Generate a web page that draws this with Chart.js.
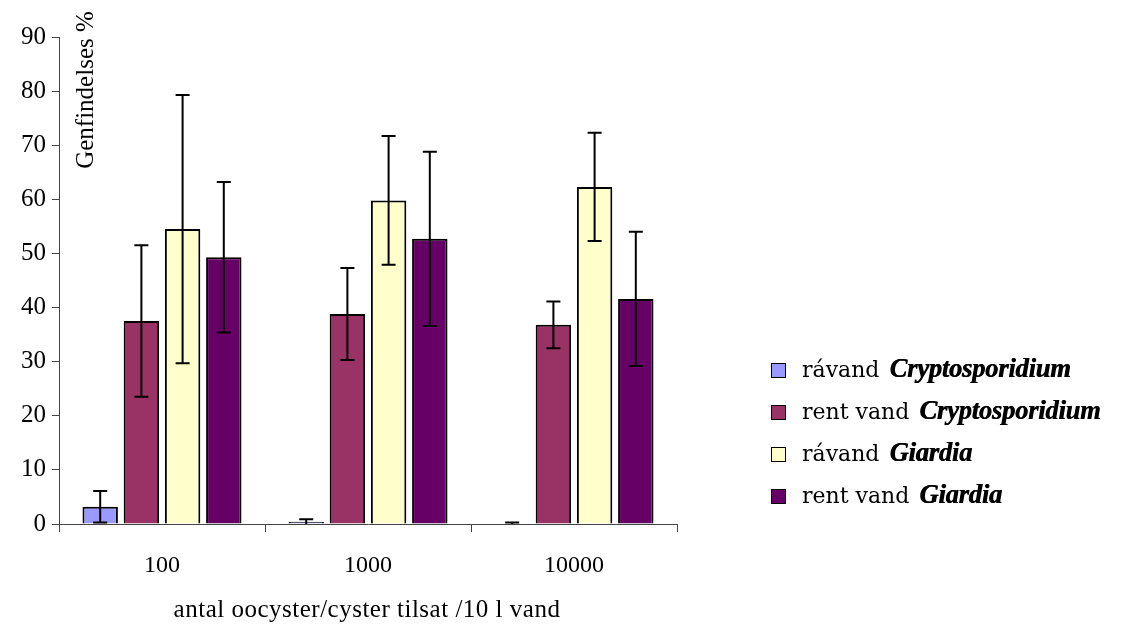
<!DOCTYPE html>
<html>
<head>
<meta charset="utf-8">
<script src="https://cdn.jsdelivr.net/npm/chart.js@4.4.0/dist/chart.umd.min.js"></script>
<style>
  body { margin: 0; background: #fff; }
  #wrap { position: relative; width: 1125px; height: 630px; }
  #legend { position: absolute; left: 771px; top: 348px; font-family: "DejaVu Serif", serif; font-size: 22px; color: #000; }
  #legend div { height: 42px; line-height: 40px; white-space: nowrap; }
  #legend span.box { display: inline-block; width: 13px; height: 13px; border: 1.5px solid #000; margin-right: 16px; vertical-align: -1px; }
  #legend b { font-family: "Liberation Serif", serif; font-style: italic; font-weight: bold; font-size: 26.5px; letter-spacing: -0.2px; text-shadow: 0.6px 0 0 #000; margin-left: 3px; }
</style>
</head>
<body>
<div id="wrap">
  <canvas id="myChart" width="1125" height="630"></canvas>
  <div id="legend"></div>
</div>
<script>
// data
const categories = ['100', '1000', '10000'];
const seriesPrefix = ['rávand', 'rent vand', 'rávand', 'rent vand'];
const seriesSpecies = ['Cryptosporidium', 'Cryptosporidium', 'Giardia', 'Giardia'];
const seriesColors = ['#9999FF', '#993366', '#FFFFCC', '#660066'];

const ravandCrypto = [3.2, 0.4, 0.1];
const rentCrypto = [37.5, 38.8, 36.8];
const ravandGiardia = [54.5, 59.8, 62.3];
const rentGiardia = [49.3, 52.7, 41.6];

// +/- error (standard deviation)
const errRavandCrypto = [2.9, 0.5, 0.2];
const errRentCrypto = [14.0, 8.5, 4.3];
const errRavandGiardia = [24.8, 11.9, 10.0];
const errRentGiardia = [13.9, 16.1, 12.4];

const yTicks = [0, 10, 20, 30, 40, 50, 60, 70, 80, 90];

const values = [ravandCrypto, rentCrypto, ravandGiardia, rentGiardia];
const errors = [errRavandCrypto, errRentCrypto, errRavandGiardia, errRentGiardia];

const serif = '"Liberation Serif", "Times New Roman", serif';

// error bars drawn on top of the bars
const errorBars = {
    id: 'errorBars',
    afterDatasetsDraw(chart) {
        const ctx = chart.ctx;
        const y = chart.scales.y;
        ctx.save();
        ctx.strokeStyle = '#000';
        ctx.lineWidth = 2;
        chart.data.datasets.forEach((ds, i) => {
            const meta = chart.getDatasetMeta(i);
            meta.data.forEach((bar, j) => {
                const v = values[i][j], e = errors[i][j];
                const top = y.getPixelForValue(v + e);
                const bot = y.getPixelForValue(Math.max(0, v - e));
                ctx.beginPath();
                ctx.moveTo(bar.x, top); ctx.lineTo(bar.x, bot);
                ctx.moveTo(bar.x - 7, top); ctx.lineTo(bar.x + 7, top);
                if (v - e > 0) { ctx.moveTo(bar.x - 7, bot); ctx.lineTo(bar.x + 7, bot); }
                ctx.stroke();
            });
        });
        ctx.restore();
    }
};

// axis titles: y title sits inside the plot, x title is letter-spaced
const axisTitles = {
    id: 'axisTitles',
    afterDraw(chart) {
        const ctx = chart.ctx;
        const area = chart.chartArea;
        ctx.save();
        ctx.fillStyle = '#000';
        ctx.textAlign = 'center';
        ctx.textBaseline = 'middle';
        ctx.font = '25px ' + serif;
        ctx.letterSpacing = '0.5px';
        ctx.fillText('antal oocyster/cyster tilsat /10 l vand', (area.left + area.right) / 2 - 1, 610);
        ctx.letterSpacing = '0px';
        ctx.translate(86, 90);
        ctx.rotate(-Math.PI / 2);
        ctx.font = '25px ' + serif;
        ctx.fillText('Genfindelses %', 0, 0);
        ctx.restore();
    }
};

const ctx = document.getElementById('myChart').getContext('2d');
const myChart = new Chart(ctx, {
    type: 'bar',
    data: {
        labels: categories,
        datasets: values.map((vals, i) => ({
            label: seriesPrefix[i] + ' ' + seriesSpecies[i],
            data: vals,
            backgroundColor: seriesColors[i],
            borderColor: '#000',
            borderWidth: 2,
            categoryPercentage: 0.8,
            barPercentage: 0.86
        }))
    },
    options: {
        responsive: false,
        animation: false,
        layout: {
            padding: { top: 37, right: 448, left: 0, bottom: 0 }
        },
        scales: {
            x: {
                grid: {
                    display: true,
                    drawOnChartArea: false,
                    tickLength: 8,
                    color: '#444'
                },
                border: { color: '#444', width: 1 },
                ticks: {
                    color: '#000',
                    padding: 19,
                    font: { family: serif, size: 24 }
                },
                afterFit(scale) { scale.height = 106; }
            },
            y: {
                min: 0,
                max: 90,
                afterBuildTicks(scale) { scale.ticks = yTicks.map(v => ({ value: v })); },
                grid: {
                    display: true,
                    drawOnChartArea: false,
                    tickLength: 7,
                    color: '#444'
                },
                border: { color: '#444', width: 1 },
                ticks: {
                    color: '#000',
                    padding: 6,
                    font: { family: serif, size: 25 }
                },
                afterFit(scale) { scale.width = 59; }
            }
        },
        plugins: {
            legend: { display: false },
            tooltip: { enabled: false }
        }
    },
    plugins: [errorBars, axisTitles]
});

// legend with bold italic species names
const legend = document.getElementById('legend');
seriesPrefix.forEach((p, i) => {
    const row = document.createElement('div');
    row.innerHTML = '<span class="box" style="background:' + seriesColors[i] + '"></span>' +
        p + ' <b>' + seriesSpecies[i] + '</b>';
    legend.appendChild(row);
});
</script>
</body>
</html>
